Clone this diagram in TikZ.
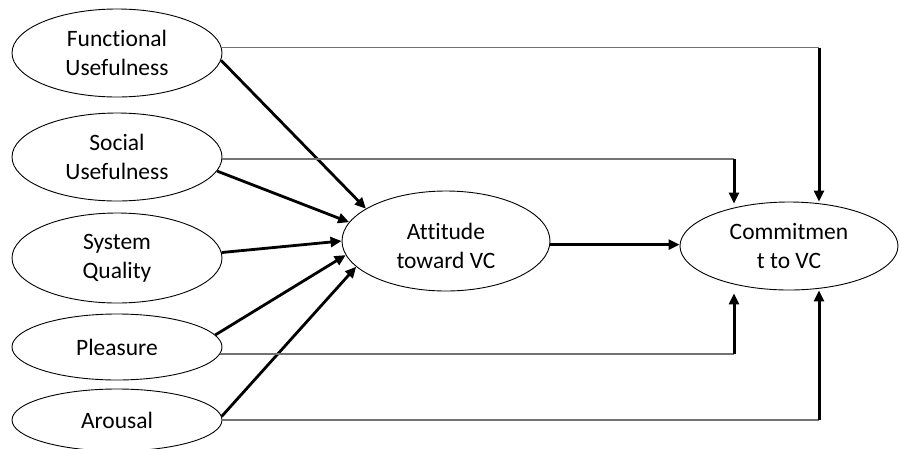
\documentclass[tikz,border=0pt]{standalone}
\usepackage{fontspec}
\setmainfont{Carlito}[Ligatures=NoCommon]
\usetikzlibrary{shapes.geometric,arrows.meta}
\begin{document}
\begin{tikzpicture}[x=1pt,y=-1pt,
  latent/.style={ellipse, draw=black, line width=0.9pt, inner sep=0pt,
    align=center, font=\fontsize{23.5}{29}\selectfont},
  caption/.style={align=center, inner sep=0pt, font=\fontsize{23.5}{29}\selectfont},
  tip/.style={-{Triangle[length=11pt,width=10pt]}},
  path/.style={tip, line width=2.8pt},
  hline/.style={line width=1.5pt, draw=black!55},
  vline/.style={tip, line width=3pt}]
\useasboundingbox (0,0) rectangle (900,448);

% constructs
\node[latent, minimum width=210, minimum height=88] (fu) at (117,53) {Functional\\Usefulness};
\node[latent, minimum width=210, minimum height=88] (su) at (117,157) {Social\\Usefulness};
\node[latent, minimum width=210, minimum height=90] (sq) at (117,258) {System\\Quality};
\node[latent, minimum width=210, minimum height=66] (pl) at (117,347) {Pleasure};
\node[latent, minimum width=210, minimum height=62] (ar) at (117,420) {Arousal};
\node[latent, minimum width=208, minimum height=100] (att) at (446,241) {};
\node[caption] (attlbl) at ([yshift=-5pt]att.center) {Attitude\\toward VC};
\node[latent, minimum width=218, minimum height=88] (cmt) at (789,246) {Commitmen\\t to VC};

% x positions of the vertical drops into Commitment
\coordinate (xa) at (734,0);
\coordinate (xb) at (819,0);

% paths into Attitude
\draw[path] (fu.-4) -- (att.158);
\draw[path] (su.-8) -- (att.169);
\draw[path] (sq.3) -- (att.180);
\draw[path] (pl.7) -- (att.188);
\draw[path] (ar.2) -- (att.196);

% Attitude to Commitment
\draw[path] (att.-2) -- (att.-2 -| cmt.west);

% direct paths into Commitment
\draw[hline] (fu.3) -- (fu.3 -| xb);
\draw[vline] (fu.3 -| xb) -- (xb |- cmt.north);
\draw[hline] (su.-1) -- (su.-1 -| xa);
\draw[vline] (su.-1 -| xa) -- ([yshift=-2pt]xa |- cmt.north);
\draw[hline] (pl.-4) -- (pl.-4 -| xa);
\draw[vline] (pl.-4 -| xa) -- ([yshift=-3pt]xa |- cmt.south);
\draw[hline] (ar.east) -- (ar.east -| xb);
\draw[vline] (ar.east -| xb) -- (xb |- cmt.south);
\end{tikzpicture}
\end{document}
